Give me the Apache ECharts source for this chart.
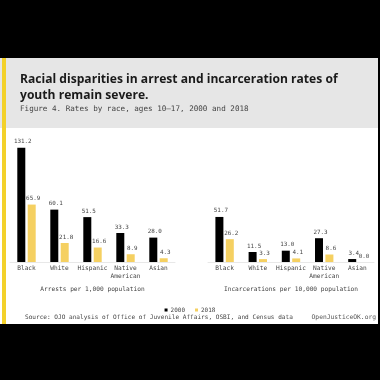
<!DOCTYPE html>
<html><head><meta charset="utf-8">
<script src="https://cdn.jsdelivr.net/npm/echarts@6/dist/echarts.min.js"></script>
<style>html,body{margin:0;padding:0;background:#000}#c{width:380px;height:380px}</style>
</head><body><div id="c"></div>
<script>
const categories = ['Black', 'White', 'Hispanic', 'Native\nAmerican', 'Asian'];
const arrests2000 = [131.2, 60.1, 51.5, 33.3, 28.0];
const arrests2018 = [65.9, 21.8, 16.6, 8.9, 4.3];
const incarc2000 = [51.7, 11.5, 13.0, 27.3, 3.4];
const incarc2018 = [26.2, 3.3, 4.1, 8.6, 0.0];
const seriesNames = ['2000', '2018'];

const BLACK = '#000000', YELLOW = '#f5d061';
const MONO = '"DejaVu Sans Mono", monospace';
const chart = echarts.init(document.getElementById('c'), null, {renderer: 'canvas'});

function xAx(grid, name) {
  return {
    type: 'category', gridIndex: grid, data: categories,
    axisLine: {show: true, lineStyle: {color: '#e8e8e8', width: 1}},
    axisTick: {show: false},
    axisLabel: {fontFamily: MONO, fontSize: 6.2, color: '#444', margin: 3, lineHeight: 7.5, interval: 0},
    name: name, nameLocation: 'middle', nameGap: 24,
    nameTextStyle: {fontFamily: MONO, fontSize: 6.2, color: '#444'}
  };
}
function yAx(grid) {
  return {type: 'value', gridIndex: grid, min: 0, max: 140, show: false, splitLine: {show: false}};
}
function bar(name, data, xi, color) {
  return {
    type: 'bar', name: name, data: data, xAxisIndex: xi, yAxisIndex: xi,
    barWidth: 8, barGap: '30%',
    itemStyle: {color: color},
    label: {show: true, position: 'top', distance: 3, offset: [1.5, 0], fontFamily: MONO, fontSize: 5.9, color: '#444',
      formatter: p => p.value.toFixed(1)}
  };
}

chart.setOption({
  backgroundColor: '#000',
  animation: false,
  graphic: [
    {type: 'rect', shape: {x: 0, y: 58, width: 378, height: 266}, style: {fill: '#ffffff'}, z: -10},
    {type: 'rect', shape: {x: 0, y: 58, width: 378, height: 70}, style: {fill: '#e6e6e6'}, z: -9},
    {type: 'rect', shape: {x: 2, y: 58, width: 4, height: 266}, style: {fill: '#f3d12a'}, z: -8},
    {type: 'text', left: 25, top: 314, style: {text: 'Source: OJO analysis of Office of Juvenile Affairs, OSBI, and Census data', font: '6.1px ' + MONO, fill: '#444'}},
    {type: 'text', right: 4, top: 314, style: {text: 'OpenJusticeOK.org', font: '6.3px ' + MONO, fill: '#555'}}
  ],
  title: [
    {text: 'Racial disparities in arrest and incarceration rates of\nyouth remain severe.', left: 20, top: 72,
      padding: 0,
      textStyle: {fontFamily: '"Open Sans", sans-serif', fontWeight: 'bold', fontSize: 12.1, color: '#1a1a1a', lineHeight: 16}},
    {text: 'Figure 4. Rates by race, ages 10\u201317, 2000 and 2018', left: 20, top: 105, padding: 0,
      textStyle: {fontFamily: MONO, fontSize: 7.6, fontWeight: 'normal', color: '#444'}}
  ],
  legend: {
    data: seriesNames, top: 302, left: 'center', itemWidth: 3, itemHeight: 3, itemGap: 10,
    icon: 'rect', textStyle: {fontFamily: MONO, fontSize: 6, color: '#444', padding: [0, 0, 0, -2]}
  },
  grid: [
    {left: 10, width: 165, top: 140, bottom: 118},
    {left: 208, width: 166, top: 140, bottom: 118}
  ],
  xAxis: [xAx(0, 'Arrests per 1,000 population'), xAx(1, 'Incarcerations per 10,000 population')],
  yAxis: [yAx(0), yAx(1)],
  series: [
    bar('2000', arrests2000, 0, BLACK),
    bar('2018', arrests2018, 0, YELLOW),
    bar('2000', incarc2000, 1, BLACK),
    bar('2018', incarc2018, 1, YELLOW)
  ]
});
</script></body></html>
